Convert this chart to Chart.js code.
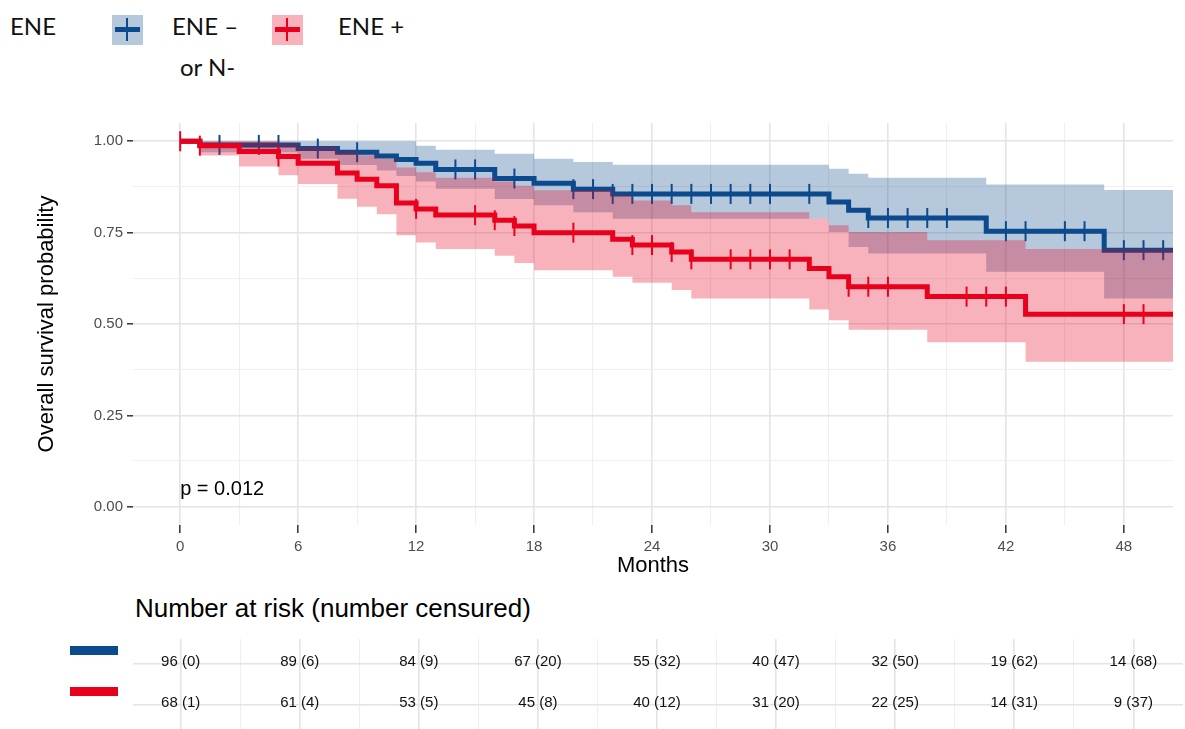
<!DOCTYPE html>
<html>
<head>
<meta charset="utf-8">
<script src="https://cdn.jsdelivr.net/npm/chart.js@4.4.1/dist/chart.umd.min.js"></script>
<style>
  html, body { margin: 0; padding: 0; background: #fff; }
  body { width: 1185px; height: 729px; position: relative; overflow: hidden; font-family: 'Liberation Sans', Arial, sans-serif; }
  #main { position: absolute; left: 0; top: 0; }
  #risk { position: absolute; left: 0; top: 630px; }
  .lg { position: absolute; font-family: Lato, 'Open Sans', sans-serif; font-size: 24px; line-height: 28px; color: #111; white-space: nowrap; }
  .key { position: absolute; top: 15px; width: 31px; height: 30px; }
  .key .h { position: absolute; left: 3px; top: 12px; width: 25px; height: 5px; }
  .key .v { position: absolute; left: 14px; top: 3px; width: 2px; height: 23px; }
  .bar { position: absolute; left: 70px; width: 48px; height: 9px; }
  #riskTitle { position: absolute; left: 135px; top: 593px; font-size: 26px; line-height: 30px; color: #000; white-space: nowrap; }
</style>
</head>
<body>
<div class="lg" style="left:10px;top:12px">ENE</div>
<div class="key" id="keyBlue" style="left:112px"><div class="h"></div><div class="v"></div></div>
<div class="lg" style="left:172px;top:12px">ENE –</div>
<div class="lg" style="left:180px;top:53px">or N-</div>
<div class="key" id="keyRed" style="left:272px"><div class="h"></div><div class="v"></div></div>
<div class="lg" style="left:338px;top:12px">ENE +</div>

<canvas id="main" width="1185" height="590"></canvas>
<div id="riskTitle">Number at risk (number censured)</div>
<div class="bar" id="barBlue" style="top:646px"></div>
<div class="bar" id="barRed" style="top:687px"></div>
<canvas id="risk" width="1185" height="99"></canvas>

<script>
// ENE- or N- group (blue): step times, survival, confidence band
const blueTimes = [0, 1, 6, 8, 10, 11, 12, 13, 16, 18, 20, 22, 33, 34, 35, 41, 47, 51];
const blueSurv  = [1, 0.99, 0.98, 0.97, 0.96, 0.95, 0.94, 0.923, 0.898, 0.885, 0.869, 0.856, 0.834, 0.811, 0.79, 0.754, 0.702, 0.702];
const blueUpper = [1, 1, 1, 1, 1, 1, 0.988, 0.977, 0.966, 0.952, 0.943, 0.936, 0.925, 0.911, 0.9, 0.882, 0.867, 0.867];
const blueLower = [1, 0.97, 0.952, 0.935, 0.92, 0.905, 0.89, 0.87, 0.842, 0.825, 0.806, 0.788, 0.752, 0.711, 0.693, 0.643, 0.57, 0.57];
const blueCensor = [2, 4, 5, 7, 9, 14, 15, 17, 20, 21, 22, 23, 24, 25, 26, 27, 28, 29, 30, 32, 35, 36, 37, 38, 39, 42, 43, 45, 46, 48, 49, 50];

// ENE+ group (red)
const redTimes = [0, 1, 3, 5, 6, 8, 9, 10, 11, 12, 13, 16, 17, 18, 22, 23, 25, 26, 32, 33, 34, 38, 43, 51];
const redSurv  = [1, 0.988, 0.972, 0.958, 0.94, 0.913, 0.896, 0.878, 0.831, 0.815, 0.798, 0.784, 0.768, 0.75, 0.732, 0.716, 0.697, 0.677, 0.652, 0.629, 0.602, 0.575, 0.527, 0.527];
const redUpper = [1, 1, 1, 0.995, 0.985, 0.972, 0.962, 0.952, 0.928, 0.915, 0.9, 0.89, 0.878, 0.866, 0.852, 0.838, 0.825, 0.806, 0.788, 0.77, 0.752, 0.729, 0.705, 0.705];
const redLower = [1, 0.961, 0.931, 0.907, 0.883, 0.843, 0.821, 0.8, 0.743, 0.723, 0.705, 0.687, 0.667, 0.647, 0.629, 0.613, 0.593, 0.57, 0.54, 0.51, 0.484, 0.45, 0.397, 0.397];
const redCensor = [0, 1, 5, 12, 15, 16, 17, 20, 23, 24, 25, 26, 28, 29, 30, 31, 34, 35, 36, 40, 41, 42, 48, 49];

// axes
const xMajor = [0, 6, 12, 18, 24, 30, 36, 42, 48];
const xMinor = [3, 9, 15, 21, 27, 33, 39, 45];
const xTickLabels = ['0', '6', '12', '18', '24', '30', '36', '42', '48'];
const yMajor = [0, 0.25, 0.5, 0.75, 1];
const yMinor = [0.125, 0.375, 0.625, 0.875];
const yTickLabels = ['0.00', '0.25', '0.50', '0.75', '1.00'];

// risk table
const riskTimes = [0, 6, 12, 18, 24, 30, 36, 42, 48];
const blueAtRisk = [96, 89, 84, 67, 55, 40, 32, 19, 14];
const blueCensored = [0, 6, 9, 20, 32, 47, 50, 62, 68];
const redAtRisk = [68, 61, 53, 45, 40, 31, 22, 14, 9];
const redCensored = [1, 4, 5, 8, 12, 20, 25, 31, 37];

const pLabel = 'p = 0.012';
const pCoord = [0, 0.046];

const blueColor = '#0b4a8c';
const redColor = '#e8001d';
const blueFill = 'rgba(11, 74, 140, 0.3)';
const redFill = 'rgba(232, 0, 29, 0.3)';
const majorGrid = '#e4e4e4';
const minorGrid = '#efefef';
const tickText = '#4d4d4d';
const none = 'rgba(0,0,0,0)';

document.querySelector('#keyBlue').style.background = blueFill;
document.querySelector('#keyBlue .h').style.background = blueColor;
document.querySelector('#keyBlue .v').style.background = blueColor;
document.querySelector('#keyRed').style.background = redFill;
document.querySelector('#keyRed .h').style.background = redColor;
document.querySelector('#keyRed .v').style.background = redColor;
document.getElementById('barBlue').style.background = blueColor;
document.getElementById('barRed').style.background = redColor;

Chart.defaults.font.family = "'Liberation Sans', Arial, sans-serif";

function steps(times, values) {
  return times.map((t, i) => ({ x: t, y: values[i] }));
}
function survAt(times, values, t) {
  let v = values[0];
  for (let i = 0; i < times.length; i++) if (times[i] <= t) v = values[i];
  return v;
}

function band(times, vals, fill, color, order) {
  return {
    data: steps(times, vals), stepped: 'before', borderWidth: 0, borderColor: none,
    pointRadius: 0, fill: fill, backgroundColor: color, order: order
  };
}
function curve(times, vals, color, order) {
  return {
    data: steps(times, vals), stepped: 'before', borderWidth: 5, borderColor: color,
    borderJoinStyle: 'miter', borderCapStyle: 'butt', pointRadius: 0, fill: false, order: order
  };
}
function censor(times, vals, marks, color, order) {
  return {
    data: marks.map(t => ({ x: t, y: survAt(times, vals, t) })),
    showLine: false, pointStyle: 'line', rotation: 90, pointRadius: 10,
    pointBorderWidth: 2, pointBorderColor: color, pointBackgroundColor: color, order: order
  };
}

const pValuePlugin = {
  id: 'pvalue',
  afterDatasetsDraw(chart) {
    const { ctx, scales: { x, y } } = chart;
    ctx.save();
    ctx.font = "20px 'Liberation Sans', Arial, sans-serif";
    ctx.fillStyle = '#000';
    ctx.textBaseline = 'middle';
    ctx.textAlign = 'left';
    ctx.fillText(pLabel, x.getPixelForValue(pCoord[0]), y.getPixelForValue(pCoord[1]));
    ctx.restore();
  }
};

const isX = (c, list) => c.tick && list.includes(c.tick.value);

new Chart(document.getElementById('main'), {
  type: 'line',
  data: {
    datasets: [
      band(blueTimes, blueUpper, '+1', blueFill, 8),
      band(blueTimes, blueLower, false, none, 7),
      curve(blueTimes, blueSurv, blueColor, 6),
      censor(blueTimes, blueSurv, blueCensor, blueColor, 5),
      band(redTimes, redUpper, '+1', redFill, 4),
      band(redTimes, redLower, false, none, 3),
      curve(redTimes, redSurv, redColor, 2),
      censor(redTimes, redSurv, redCensor, redColor, 1)
    ]
  },
  options: {
    responsive: false,
    animation: false,
    devicePixelRatio: 1,
    events: [],
    layout: { padding: { top: 123, right: 2, bottom: 0, left: 0 } },
    plugins: { legend: { display: false }, tooltip: { enabled: false } },
    scales: {
      x: {
        type: 'linear', min: -2.4, max: 50.5,
        afterBuildTicks: s => { s.ticks = xMajor.concat(xMinor).sort((a, b) => a - b).map(v => ({ value: v })); },
        afterFit: s => { s.height = 65; },
        ticks: {
          autoSkip: false, maxRotation: 0, padding: 5, color: tickText, font: { size: 15 },
          callback: v => { const i = xMajor.indexOf(v); return i >= 0 ? xTickLabels[i] : ''; }
        },
        grid: {
          color: c => isX(c, xMajor) ? majorGrid : minorGrid,
          lineWidth: c => isX(c, xMajor) ? 1.6 : 1.1,
          tickLength: 8, tickWidth: 1.5,
          tickColor: c => isX(c, xMajor) ? '#333' : none
        },
        border: { display: false },
        title: { display: true, text: 'Months', color: '#000', font: { size: 22 }, padding: { top: 0, bottom: 11 } }
      },
      y: {
        type: 'linear', min: -0.05, max: 1.05,
        afterBuildTicks: s => { s.ticks = yMajor.concat(yMinor).sort((a, b) => a - b).map(v => ({ value: v })); },
        afterFit: s => { s.width = 133; },
        ticks: {
          autoSkip: false, padding: 4, color: tickText, font: { size: 15 },
          callback: v => { const i = yMajor.indexOf(v); return i >= 0 ? yTickLabels[i] : ''; }
        },
        grid: {
          color: c => isX(c, yMajor) ? majorGrid : minorGrid,
          lineWidth: c => isX(c, yMajor) ? 1.6 : 1.1,
          tickLength: 6, tickWidth: 1.5,
          tickColor: c => isX(c, yMajor) ? '#333' : none
        },
        border: { display: false },
        title: { display: true, text: 'Overall survival probability', color: '#000', font: { size: 22 }, padding: { top: 34, bottom: 0 } }
      }
    }
  },
  plugins: [pValuePlugin]
});

// risk table
const riskLabels = [
  blueAtRisk.map((n, i) => `${n} (${blueCensored[i]})`),
  redAtRisk.map((n, i) => `${n} (${redCensored[i]})`)
];

const riskTextPlugin = {
  id: 'risktext',
  afterDatasetsDraw(chart) {
    const { ctx } = chart;
    ctx.save();
    ctx.font = "15px 'Liberation Sans', Arial, sans-serif";
    ctx.fillStyle = '#111';
    ctx.textAlign = 'center';
    ctx.textBaseline = 'middle';
    chart.data.datasets.forEach((ds, di) => {
      chart.getDatasetMeta(di).data.forEach((pt, i) => {
        ctx.fillText(riskLabels[di][i], pt.x, pt.y - 2);
      });
    });
    ctx.restore();
  }
};

new Chart(document.getElementById('risk'), {
  type: 'scatter',
  data: {
    datasets: [
      { data: riskTimes.map(t => ({ x: t, y: 1 })), pointRadius: 0 },
      { data: riskTimes.map(t => ({ x: t, y: 2 })), pointRadius: 0 }
    ]
  },
  options: {
    responsive: false,
    animation: false,
    devicePixelRatio: 1,
    events: [],
    layout: { padding: { top: 9, right: 2, bottom: 0, left: 0 } },
    plugins: { legend: { display: false }, tooltip: { enabled: false } },
    scales: {
      x: {
        type: 'linear', min: -2.4, max: 50.5,
        afterBuildTicks: s => { s.ticks = xMajor.concat(xMinor).sort((a, b) => a - b).map(v => ({ value: v })); },
        afterFit: s => { s.height = 0; },
        ticks: { display: false },
        grid: { color: c => isX(c, xMajor) ? majorGrid : minorGrid, lineWidth: c => isX(c, xMajor) ? 1.6 : 1.1, drawTicks: false },
        border: { display: false }
      },
      y: {
        type: 'linear', min: 0.4, max: 2.6, reverse: true,
        afterBuildTicks: s => { s.ticks = [{ value: 1 }, { value: 2 }]; },
        afterFit: s => { s.width = 133; },
        ticks: { display: false },
        grid: { color: majorGrid, lineWidth: 1.6, drawTicks: false },
        border: { display: false }
      }
    }
  },
  plugins: [riskTextPlugin]
});
</script>
</body>
</html>
